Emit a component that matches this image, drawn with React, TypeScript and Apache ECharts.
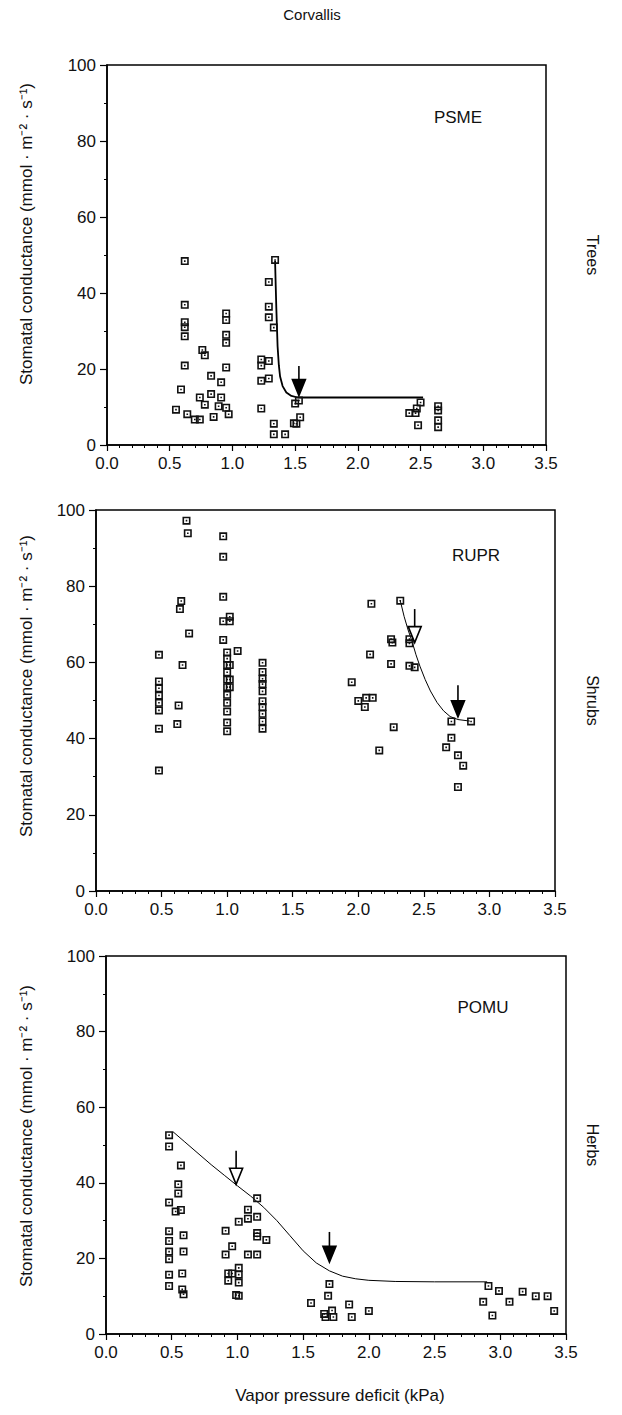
import React, { useEffect, useRef } from "react";
import * as echarts from "echarts";

// ---------- data ----------
const psmePoints: number[][] = [
  [0.62, 48.4], [0.62, 36.9], [0.62, 32.3], [0.62, 31.0], [0.62, 28.6], [0.62, 20.9],
  [0.59, 14.6], [0.55, 9.3], [0.64, 8.1], [0.70, 6.7], [0.74, 6.7], [0.76, 25.0],
  [0.78, 23.6], [0.74, 12.5], [0.78, 10.6], [0.83, 18.2], [0.83, 13.4], [0.85, 7.4],
  [0.89, 10.2], [0.91, 12.5], [0.91, 16.5], [0.95, 34.6], [0.95, 32.9], [0.95, 29.0],
  [0.95, 26.9], [0.95, 20.4], [0.95, 9.8], [0.97, 8.1],
  [1.23, 22.5], [1.23, 20.9], [1.23, 16.9], [1.23, 9.6], [1.29, 22.1], [1.29, 17.5],
  [1.29, 42.9], [1.29, 36.4], [1.29, 33.6], [1.34, 48.7], [1.33, 30.9], [1.33, 5.6],
  [1.33, 2.8], [1.42, 2.8], [1.50, 10.9], [1.53, 11.7], [1.49, 5.7], [1.51, 5.6], [1.54, 7.3],
  [2.41, 8.4], [2.46, 8.4], [2.47, 9.6], [2.50, 11.2], [2.48, 5.2],
  [2.64, 10.2], [2.64, 9.1], [2.64, 6.5], [2.64, 4.7],
];
const psmeCurve: number[][] = [
  [1.34, 48.5], [1.345, 42], [1.35, 36], [1.355, 31], [1.36, 26], [1.37, 21],
  [1.38, 18], [1.40, 15.5], [1.43, 13.8], [1.47, 12.9], [1.52, 12.5], [2.52, 12.5],
];
const psmeArrows: number[][] = [[1.53, 20.8, 13.0, 1]];

const ruprPoints: number[][] = [
  [0.48, 62.0], [0.48, 55.0], [0.48, 53.2], [0.48, 51.3], [0.48, 49.4], [0.48, 47.4],
  [0.48, 42.6], [0.48, 31.6],
  [0.63, 48.7], [0.62, 43.8], [0.64, 74.0], [0.65, 76.1], [0.69, 97.2], [0.70, 93.9],
  [0.66, 59.3], [0.71, 67.6],
  [0.97, 93.1], [0.97, 87.7], [0.97, 77.2], [0.97, 70.8], [0.97, 65.9], [1.02, 72.0],
  [1.02, 70.8], [1.08, 63.0],
  [1.0, 62.6], [1.0, 61.0], [1.0, 59.3], [1.0, 57.4], [1.0, 55.5], [1.0, 53.5],
  [1.0, 51.5], [1.0, 49.4], [1.0, 47.1], [1.0, 44.2], [1.0, 41.9],
  [1.02, 59.3], [1.02, 55.5], [1.02, 53.5],
  [1.27, 59.9], [1.27, 57.5], [1.27, 55.7], [1.27, 54.3], [1.27, 52.4], [1.27, 49.8],
  [1.27, 48.3], [1.27, 46.5], [1.27, 44.5], [1.27, 42.6],
  [1.95, 54.8], [2.0, 49.9], [2.05, 48.3], [2.06, 50.7], [2.11, 50.7], [2.09, 62.1],
  [2.10, 75.4], [2.16, 36.9], [2.25, 66.1], [2.26, 65.2], [2.25, 59.6], [2.27, 43.0],
  [2.32, 76.2], [2.39, 66.1], [2.39, 65.0], [2.39, 59.1], [2.43, 58.7],
  [2.71, 44.5], [2.86, 44.5], [2.71, 40.2], [2.67, 37.7], [2.76, 35.6], [2.80, 32.9],
  [2.76, 27.3],
];
const ruprCurve: number[][] = [
  [2.32, 76.2], [2.35, 72], [2.38, 68.5], [2.41, 65.5], [2.44, 62], [2.47, 59],
  [2.51, 55.5], [2.55, 52.5], [2.60, 49.5], [2.65, 47.3], [2.70, 45.8], [2.76, 45],
  [2.85, 44.6],
];
const ruprArrows: number[][] = [[2.43, 74, 65.2, 0], [2.76, 54, 45.7, 1]];

const pomuPoints: number[][] = [
  [0.48, 52.6], [0.48, 49.6], [0.48, 34.8], [0.48, 27.2], [0.48, 24.6], [0.48, 21.8],
  [0.48, 19.8], [0.48, 15.7], [0.48, 12.7],
  [0.57, 44.6], [0.55, 39.6], [0.55, 37.2], [0.57, 32.8], [0.53, 32.4], [0.59, 26.1],
  [0.59, 21.8], [0.58, 16.0], [0.58, 11.8], [0.59, 10.5],
  [0.91, 27.3], [0.96, 23.2], [0.91, 21.0], [0.93, 16.0], [0.93, 14.1], [1.01, 17.5],
  [1.01, 15.7], [1.01, 13.6], [1.01, 10.1], [0.99, 10.3], [0.96, 16.0],
  [1.01, 29.7], [1.08, 32.9], [1.08, 30.5], [1.15, 35.9], [1.15, 31.0], [1.15, 26.7],
  [1.15, 25.8], [1.08, 21.0], [1.15, 21.0], [1.22, 24.9],
  [1.56, 8.2], [1.70, 13.2], [1.69, 10.1], [1.66, 5.3], [1.67, 4.5], [1.72, 6.2],
  [1.73, 4.5], [1.85, 7.8], [1.87, 4.5], [2.00, 6.1],
  [2.87, 8.5], [2.91, 12.7], [2.94, 4.9], [2.99, 11.4], [3.07, 8.5], [3.17, 11.2],
  [3.27, 10.0], [3.36, 10.0], [3.41, 6.1],
];
const pomuCurve: number[][] = [
  [0.51, 53.5], [0.6, 50.8], [0.7, 47.8], [0.8, 44.8], [0.9, 42], [1.0, 39.2],
  [1.1, 36.5], [1.2, 33.5], [1.3, 30], [1.4, 26], [1.5, 22], [1.6, 18.8],
  [1.7, 16.7], [1.8, 15.3], [1.9, 14.6], [2.0, 14.2], [2.2, 13.9], [2.5, 13.8],
  [2.9, 13.8],
];
const pomuArrows: number[][] = [[0.99, 48.5, 39.6, 0], [1.70, 27, 19, 1]];

const speciesNames = ["PSME", "RUPR", "POMU"];
const groupNames = ["Trees", "Shrubs", "Herbs"];
const chartTitle = "Corvallis";
const yTitle = "Stomatal conductance (mmol \u00b7 m\u207b\u00b2 \u00b7 s\u207b\u00b9)";
const xTitle = "Vapor pressure deficit (kPa)";

// ---------- layout ----------
const FONT = "'Liberation Sans', Arial, Helvetica, sans-serif";
const grids = [
  { left: 107, top: 65, width: 439, height: 380 },
  { left: 96, top: 510, width: 459, height: 381 },
  { left: 106, top: 956, width: 460, height: 378 },
];
const labelPos = [
  [458, 117],
  [476, 555],
  [483, 1007],
];
const yTitleCenters = [234, 686, 1136];

const SQUARE = "path://M0,0H10V10H0Z M2,2V8H8V2Z M4,4H6V6H4Z";

function arrowRender(params: any, api: any) {
  const x = api.value(0);
  const top = api.coord([x, api.value(1)]);
  const tip = api.coord([x, api.value(2)]);
  const filled = api.value(3) === 1;
  const headLen = 16;
  const halfW = 6.5;
  return {
    type: "group",
    children: [
      {
        type: "line",
        shape: { x1: top[0], y1: top[1], x2: tip[0], y2: tip[1] - headLen + 1 },
        style: { stroke: "#000", lineWidth: 1.6 },
      },
      {
        type: "polygon",
        shape: {
          points: [
            [tip[0] - halfW, tip[1] - headLen],
            [tip[0] + halfW, tip[1] - headLen],
            [tip[0], tip[1]],
          ],
        },
        style: { fill: filled ? "#000" : "#fff", stroke: "#000", lineWidth: 1.6 },
      },
    ],
  };
}

export default function App() {
  const ref = useRef<HTMLDivElement>(null);
  useEffect(() => {
    document.body.style.margin = "0";
    if (!ref.current) return;
    const chart = echarts.init(ref.current, null, { renderer: "svg" });

    const pointSets = [psmePoints, ruprPoints, pomuPoints];
    const curves = [psmeCurve, ruprCurve, pomuCurve];
    const arrows = [psmeArrows, ruprArrows, pomuArrows];

    const series: any[] = [];
    for (let i = 0; i < 3; i++) {
      series.push({
        type: "line",
        xAxisIndex: i,
        yAxisIndex: i,
        data: curves[i],
        smooth: false,
        showSymbol: false,
        symbol: "none",
        lineStyle: { color: "#000", width: i === 0 ? 1.8 : 1, join: "round" },
        z: 2,
      });
      series.push({
        type: "scatter",
        xAxisIndex: i,
        yAxisIndex: i,
        data: pointSets[i],
        symbol: SQUARE,
        symbolSize: 8,
        itemStyle: { color: "#111", opacity: 1 },
        z: 3,
      });
      series.push({
        type: "custom",
        xAxisIndex: i,
        yAxisIndex: i,
        data: arrows[i],
        renderItem: arrowRender,
        z: 4,
      });
    }

    const graphic: any[] = [
      {
        type: "text",
        x: 312,
        y: 14,
        style: { text: chartTitle, font: `15px ${FONT}`, fill: "#111", textAlign: "center", textVerticalAlign: "middle" },
      },
      {
        type: "text",
        x: 340,
        y: 1395,
        style: { text: xTitle, font: `17px ${FONT}`, fill: "#111", textAlign: "center", textVerticalAlign: "middle" },
      },
    ];
    for (let i = 0; i < 3; i++) {
      const g = grids[i];
      graphic.push({
        type: "text",
        x: 26,
        y: yTitleCenters[i],
        rotation: Math.PI / 2,
        style: { text: yTitle, font: `17px ${FONT}`, fill: "#111", textAlign: "center", textVerticalAlign: "middle" },
      });
      graphic.push({
        type: "text",
        x: 592,
        y: g.top + g.height / 2,
        rotation: -Math.PI / 2,
        style: { text: groupNames[i], font: `16px ${FONT}`, fill: "#111", textAlign: "center", textVerticalAlign: "middle" },
      });
      graphic.push({
        type: "text",
        x: labelPos[i][0],
        y: labelPos[i][1],
        style: { text: speciesNames[i], font: `17px ${FONT}`, fill: "#111", textAlign: "center", textVerticalAlign: "middle" },
      });
    }

    const option: any = {
      animation: false,
      backgroundColor: "#fff",
      grid: grids.map((g) => ({
        ...g,
        show: true,
        borderColor: "#000",
        borderWidth: 1.5,
        backgroundColor: "transparent",
        containLabel: false,
      })),
      xAxis: grids.map((_, i) => ({
        type: "value",
        gridIndex: i,
        min: 0,
        max: 3.5,
        interval: 0.5,
        axisLine: { show: true, onZero: false, lineStyle: { color: "#000", width: 1.5 } },
        axisTick: { show: true, inside: false, length: 6, lineStyle: { color: "#000", width: 1.2 } },
        minorTick: { show: true, splitNumber: 5, length: 3, lineStyle: { color: "#000", width: 1 } },
        splitLine: { show: false },
        axisLabel: {
          color: "#111",
          fontSize: 17,
          fontFamily: FONT,
          margin: 10,
          formatter: (v: number) => v.toFixed(1),
        },
      })),
      yAxis: grids.map((_, i) => ({
        type: "value",
        gridIndex: i,
        min: 0,
        max: 100,
        interval: 20,
        axisLine: { show: true, onZero: false, lineStyle: { color: "#000", width: 1.5 } },
        axisTick: { show: true, inside: false, length: 7, lineStyle: { color: "#000", width: 1.2 } },
        minorTick: { show: true, splitNumber: 2, length: 3, lineStyle: { color: "#000", width: 1 } },
        splitLine: { show: false },
        axisLabel: { color: "#111", fontSize: 17, fontFamily: FONT, margin: 11 },
      })),
      series,
      graphic,
    };
    chart.setOption(option);
    return () => chart.dispose();
  }, []);
  return <div ref={ref} style={{ width: 622, height: 1415, background: "#fff" }} />;
}
